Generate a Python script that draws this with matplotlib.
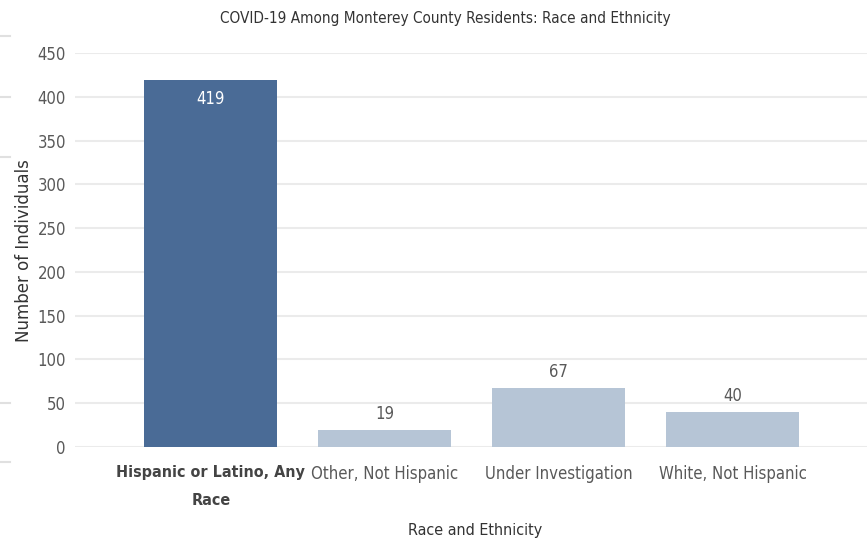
import matplotlib
matplotlib.use("Agg")
import matplotlib.pyplot as plt
from matplotlib.lines import Line2D
from matplotlib import font_manager as fm

categories = ["Hispanic or Latino, Any\nRace", "Other, Not Hispanic", "Under Investigation", "White, Not Hispanic"]
values = [419, 19, 67, 40]
bar_colors = ["#4a6b96", "#b6c5d6", "#b6c5d6", "#b6c5d6"]
yticks = [0, 50, 100, 150, 200, 250, 300, 350, 400, 450]

# look for a condensed sans font file; fall back to Lato
reg_path = None
bold_path = None
for f in fm.fontManager.ttflist:
    p = f.fname
    low = p.lower()
    if ("condensed" in low or "narrow" in low) and "sans" in low and "mono" not in low and "serif" not in low.replace("sans", ""):
        if "oblique" in low or "italic" in low or "light" in low:
            continue
        if "bold" in low:
            bold_path = bold_path or p
        else:
            reg_path = reg_path or p

if reg_path:
    def fp(size, bold=False):
        if bold and bold_path:
            return fm.FontProperties(fname=bold_path, size=size)
        return fm.FontProperties(fname=reg_path, size=size, weight="bold" if bold else "normal")
    tsize, bsize, lsize, titsize = 12, 11.5, 11.5, 11
else:
    def fp(size, bold=False):
        return fm.FontProperties(family=["Lato", "DejaVu Sans"], size=size, weight="bold" if bold else "normal")
    tsize, bsize, lsize, titsize = 11, 10.5, 11, 10.5

fig = plt.figure(figsize=(8.67, 5.41), dpi=100)
ax = fig.add_axes([75/867, 1-447/541, 792/867, 394/541])

x = list(range(len(categories)))
bars = ax.bar(x, values, width=0.764, color=bar_colors, zorder=2)
ax.set_xlim(-0.78, 3.77)
ax.set_ylim(0, 450)
ax.set_yticks(yticks)
ax.grid(axis="y", color="#ebebeb", linewidth=1.5, zorder=0)
ax.set_axisbelow(True)
for s in ax.spines.values():
    s.set_visible(False)
ax.tick_params(axis="y", length=0, pad=6.5)
ax.tick_params(axis="x", length=0, pad=13)
ax.set_xticks(x)
ax.set_xticklabels(categories, linespacing=2.05, va="top")
for i, lab in enumerate(ax.get_xticklabels()):
    lab.set_fontproperties(fp(bsize if i == 0 else tsize, bold=(i == 0)))
    lab.set_color("#444444" if i == 0 else "#595959")
for lab in ax.get_yticklabels():
    lab.set_fontproperties(fp(tsize))
    lab.set_color("#595959")

for i, (b, v) in enumerate(zip(bars, values)):
    if i == 0:
        ax.text(b.get_x()+b.get_width()/2, v-11, str(v), ha="center", va="top",
                fontproperties=fp(tsize), color="white")
    else:
        ax.text(b.get_x()+b.get_width()/2, v+8, str(v), ha="center", va="bottom",
                fontproperties=fp(tsize), color="#595959")

fig.text(445/867, 1-18/541, "COVID-19 Among Monterey County Residents: Race and Ethnicity",
         ha="center", va="center", fontproperties=fp(titsize), color="#333333")
fig.text(475/867, 1-531/541, "Race and Ethnicity", ha="center", va="center",
         fontproperties=fp(lsize), color="#333333")
fig.text(24/867, 1-251/541, "Number of Individuals", ha="center", va="center", rotation=90,
         family=["DejaVu Sans"], fontsize=12, color="#333333")

for yy in [36, 97, 157, 403, 462]:
    fig.add_artist(Line2D([0, 10/867], [1-yy/541, 1-yy/541], color="#e0e0e0", linewidth=1.5,
                          transform=fig.transFigure))

fig.savefig("out.png", dpi=100, facecolor="white")
